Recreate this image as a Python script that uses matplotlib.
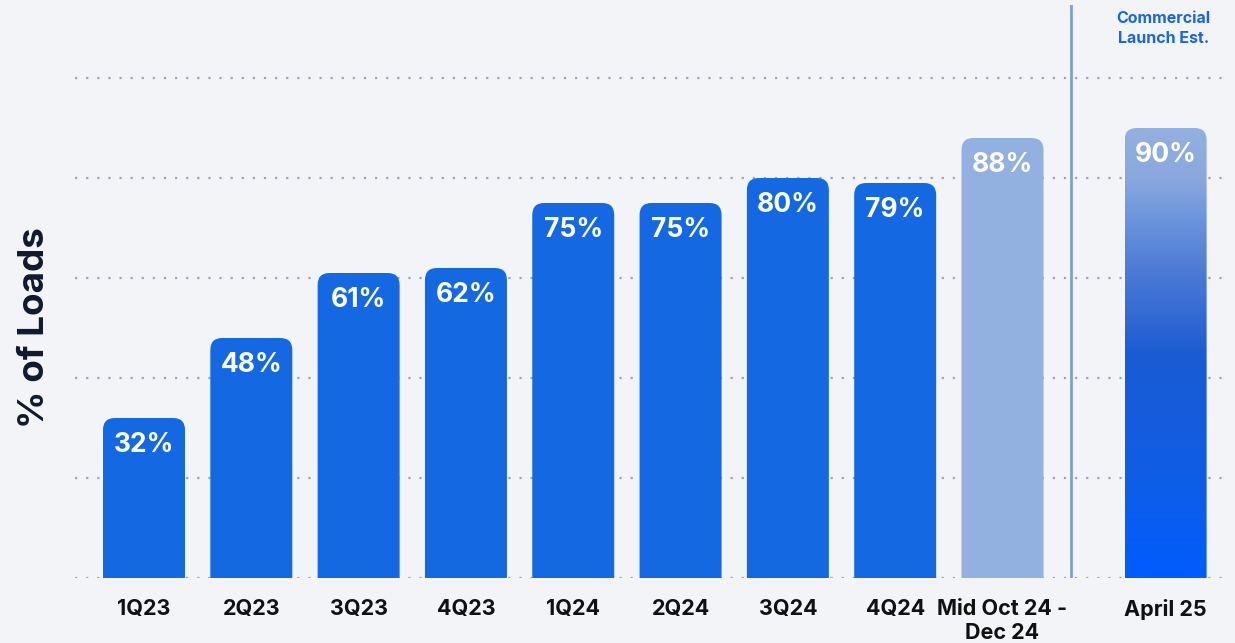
import numpy as np
import matplotlib.pyplot as plt
from matplotlib.patches import FancyBboxPatch
from matplotlib.colors import LinearSegmentedColormap

categories = ['1Q23', '2Q23', '3Q23', '4Q23', '1Q24', '2Q24', '3Q24', '4Q24',
              'Mid Oct 24 -\nDec 24', 'April 25']
values = [32, 48, 61, 62, 75, 75, 80, 79, 88, 90]
positions = [0, 1, 2, 3, 4, 5, 6, 7, 8, 9.52]
divider_x = 8.64
grid_levels = [0, 20, 40, 60, 80, 100]

bg = '#f2f4f8'
bar_color = '#1469e3'
light_color = '#92b0e0'
grad = LinearSegmentedColormap.from_list(
    'launch', [(0, '#005cff'), (0.22, '#0f5ee6'), (0.5, '#1b5bd3'),
               (0.57, '#2f68d4'), (0.66, '#4677d5'), (0.79, '#6a92dc'),
               (0.89, '#8aa8de'), (1, '#94b0e0')])

plt.rcParams['font.family'] = ['Inter', 'DejaVu Sans']

fig = plt.figure(figsize=(12.35, 6.43), dpi=100, facecolor=bg)
ax = fig.add_axes([75 / 1235, 65 / 643, 1155 / 1235, 573 / 643], facecolor=bg)
ax.set_xlim(-0.643, 10.12)
ax.set_ylim(0, 114.6)

for g in grid_levels:
    ax.axhline(g, color='#9aa5b5', lw=1.6, ls=(0, (1, 4)), zorder=0)

ax.axvline(divider_x, color='#7f9fd0', lw=2, zorder=1)

# rounding in pixels -> data units
fig.canvas.draw()
px = ax.transData.inverted().transform([[0, 0], [12, 12]])
rx, ry = px[1] - px[0]
w = 0.764

for i, (x, v) in enumerate(zip(positions, values)):
    if i == 8:
        fc = light_color
    elif i == 9:
        fc = 'none'
    else:
        fc = bar_color
    patch = FancyBboxPatch((x - w / 2, -3 * ry), w, v + 3 * ry,
                           boxstyle=f'round,pad=0,rounding_size={rx}',
                           mutation_aspect=ry / rx, fc=fc, ec='none', zorder=2)
    ax.add_patch(patch)
    if i == 9:
        img = np.linspace(0, 1, 256).reshape(-1, 1)
        im = ax.imshow(img, cmap=grad, origin='lower', aspect='auto',
                       extent=[x - w / 2, x + w / 2, 0, v], zorder=2)
        im.set_clip_path(patch)
    ax.text(x, v - 6.8, f'{v}%', color='white', fontsize=19, fontweight='bold',
            ha='center', va='baseline', zorder=3)

ax.set_xlim(-0.643, 10.12)
ax.set_ylim(0, 114.6)

ax.set_xticks(positions)
ax.set_xticklabels(categories, fontsize=15.5, fontweight='bold', color='#111111',
                   linespacing=1.25)
ax.tick_params(axis='x', length=0, pad=15)
ax.set_yticks([])
for s in ax.spines.values():
    s.set_visible(False)

ax.text(9.5, 113.4, 'Commercial\nLaunch Est.', color='#1a66e0', fontsize=11.5,
        fontweight='bold', ha='center', va='top', linespacing=1.45, clip_on=False)

fig.text(35 / 1235, 1 - 328 / 643, '% of Loads', rotation=90, fontsize=26.5,
         fontweight='bold', color='#0f1a2e', ha='center', va='center')

fig.savefig('out.png', dpi=100, facecolor=bg)
